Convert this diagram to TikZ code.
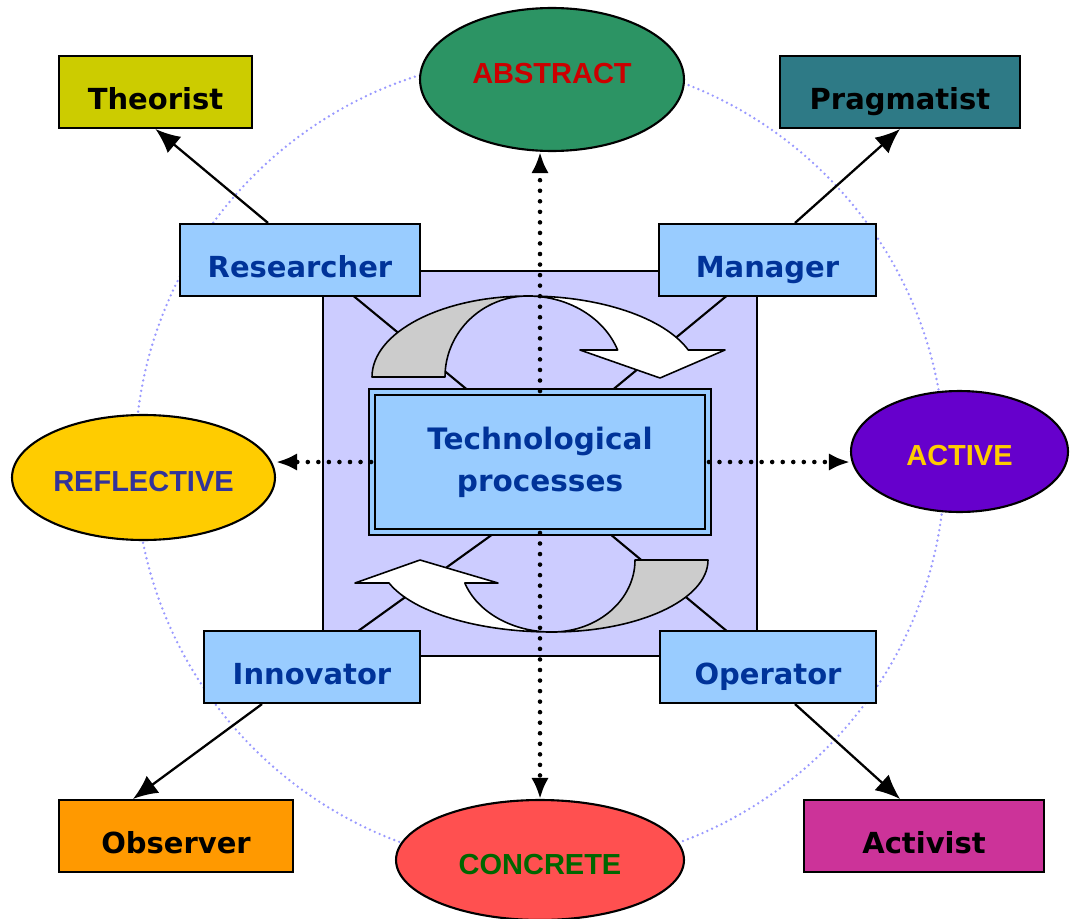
\documentclass[tikz,border=0pt]{standalone}
\usepackage{fontspec}
\newfontfamily\verdana{DejaVu Sans}
\newfontfamily\arial{Liberation Sans}
\usetikzlibrary{shapes.geometric,arrows.meta}

\definecolor{lavender}{HTML}{CCCCFF}
\definecolor{roleblue}{HTML}{99CCFF}
\definecolor{roletext}{HTML}{003399}
\definecolor{circblue}{HTML}{9999FF}
\definecolor{arrowgray}{HTML}{CCCCCC}
\definecolor{theorist}{HTML}{CCCC00}
\definecolor{pragmatist}{HTML}{2E7A86}
\definecolor{observer}{HTML}{FF9900}
\definecolor{activist}{HTML}{CC3399}
\definecolor{abstractfill}{HTML}{2C9464}
\definecolor{abstracttext}{HTML}{CC0000}
\definecolor{reflfill}{HTML}{FFCC00}
\definecolor{refltext}{HTML}{333399}
\definecolor{activefill}{HTML}{6600CC}
\definecolor{activetext}{HTML}{FFCC00}
\definecolor{concfill}{HTML}{FF5050}
\definecolor{conctext}{HTML}{006600}

\begin{document}
\begin{tikzpicture}[x=0.02cm,y=-0.02cm,>={Latex[length=14pt,width=12pt]},
  box/.style={draw,line width=1.2pt,minimum height=1.44cm,inner sep=0pt,text height=20pt,text depth=0pt,
    font=\verdana\bfseries\fontsize{16.5}{19}\selectfont},
  rolebox/.style={box,fill=roleblue,text=roletext,minimum width=#1},
  stylebox/.style={box,minimum width=#1},
  oval/.style={ellipse,draw,line width=1.2pt,inner sep=0pt,font=\arial\bfseries\fontsize{16.5}{19}\selectfont},
  dotarrow/.style={-{Latex[length=12pt,width=10pt]},line width=2.6pt,dash pattern=on 0pt off 6pt,line cap=round},
  arrowpart/.style={draw,line width=0.9pt,line join=round}]
\useasboundingbox (0,0) rectangle (1078,919);

% dotted circle behind everything
\draw[color=circblue,line width=1.5pt,dash pattern=on 0pt off 3pt,line cap=round] (540,462) circle (405);

% the four poles
\node[oval,fill=abstractfill,text=abstracttext,minimum width=5.28cm,minimum height=2.86cm,text depth=6.8pt] (node1-1) at (552,79.5) {ABSTRACT};
\node[oval,fill=activefill,text=activetext,minimum width=4.34cm,minimum height=2.42cm,text height=16.4pt,text depth=0pt] (node1-2) at (959.5,451.5) {ACTIVE};
\node[oval,fill=concfill,text=conctext,minimum width=5.76cm,minimum height=2.4cm,text height=16.4pt,text depth=0pt] (node1-3) at (540,860) {CONCRETE};
\node[oval,fill=reflfill,text=refltext,minimum width=5.26cm,minimum height=2.5cm,text height=16.4pt,text depth=0pt] (node1-4) at (143.5,477.5) {REFLECTIVE};

% bevelled square
\node[draw,line width=1.2pt,fill=lavender,minimum width=8.68cm,minimum height=7.7cm] (node0) at (540,463.5) {};
\coordinate (node0-1) at (470,392);
\coordinate (node0-2) at (610,392);
\coordinate (node0-3) at (493,534);
\coordinate (node0-4) at (610,534);
\draw[line width=1.2pt] (node0.north west)--(node0-1);
\draw[line width=1.2pt] (node0.north east)--(node0-2);
\draw[line width=1.2pt] (node0.south west)--(node0-3);
\draw[line width=1.2pt] (node0.south east)--(node0-4);

% roles
\node[rolebox=4.8cm] (node2) at (300,260) {Researcher};
\node[rolebox=4.34cm] (node3) at (767.5,260) {Manager};
\node[rolebox=4.32cm] (node4) at (312,667) {Innovator};
\node[rolebox=4.32cm] (node5) at (768,667) {Operator};

% learning styles
\node[stylebox=3.86cm,fill=theorist] (node2-1) at (155.5,92) {Theorist};
\node[stylebox=4.8cm,fill=pragmatist] (node3-1) at (900,92) {Pragmatist};
\node[stylebox=4.68cm,fill=observer] (node4-1) at (176,836) {Observer};
\node[stylebox=4.8cm,fill=activist] (node5-1) at (924,836) {Activist};

% curved arrows
\draw[arrowpart,fill=arrowgray] (372,377) arc[start angle=180,end angle=270,x radius=156,y radius=81]
  arc[start angle=270,end angle=180,x radius=83,y radius=81] -- cycle;
\draw[arrowpart,fill=white] (528,296) arc[start angle=270,end angle=340.5,x radius=170,y radius=81]
  -- (725,350) -- (660,378) -- (580,350) -- (617.6,350)
  arc[start angle=340.5,end angle=270,x radius=95,y radius=81] -- cycle;
\draw[arrowpart,fill=arrowgray] (708,560) arc[start angle=0,end angle=90,x radius=156,y radius=72]
  arc[start angle=90,end angle=0,x radius=83,y radius=72] -- cycle;
\draw[arrowpart,fill=white] (552,632) arc[start angle=90,end angle=161.4,x radius=172,y radius=72]
  -- (355,583) -- (420,560) -- (498,583) -- (464.8,583)
  arc[start angle=161.4,end angle=90,x radius=92,y radius=72] -- cycle;

% centre
\node[draw,line width=1.1pt,double=roleblue,double distance=2.3pt,fill=roleblue,minimum width=6.72cm,minimum height=2.8cm,
  align=center,text=roletext,font=\verdana\bfseries\fontsize{16.8}{24}\selectfont] (node1) at (540,462) {Technological\\processes};

\draw[dotarrow] (node1.north)--(node1-1.south -| node1.north);
\draw[dotarrow] (node1.south)--(node1-3.north);
\draw[dotarrow] (node1.west)--(node1-4.east |- node1.west);
\draw[dotarrow] (node1.east)--(node1-2.west |- node1.east);

\draw[->,line width=1.3pt] ([xshift=-0.64cm]node2.north)--(node2-1.south);
\draw[->,line width=1.3pt] ([xshift=0.55cm]node3.north)--(node3-1.south);
\draw[->,line width=1.3pt] ([xshift=-1cm]node4.south)--([xshift=-0.86cm]node4-1.north);
\draw[->,line width=1.3pt] ([xshift=0.54cm]node5.south)--([xshift=-0.48cm]node5-1.north);

\end{tikzpicture}
\end{document}
